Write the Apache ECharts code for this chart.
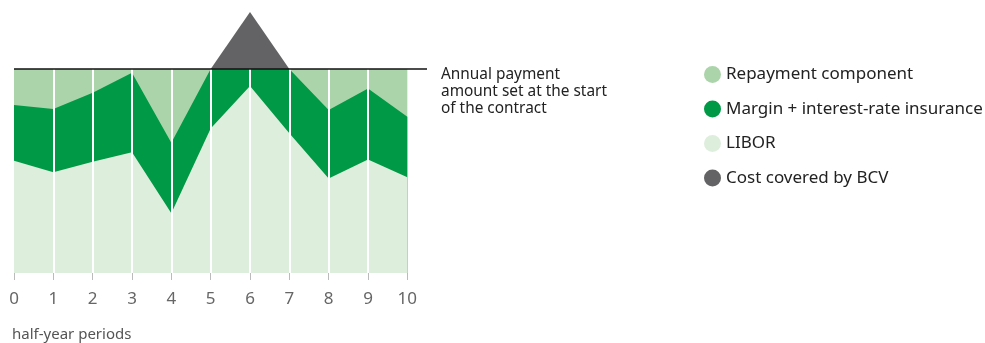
<!DOCTYPE html>
<html>
<head>
<meta charset="utf-8">
<script src="https://cdn.jsdelivr.net/npm/echarts@6/dist/echarts.min.js"></script>
<style>html,body{margin:0;padding:0;background:#fff}#c{width:985px;height:343px}</style>
</head>
<body>
<div id="c"></div>
<script>
// Data
var periods = [0, 1, 2, 3, 4, 5, 6, 7, 8, 9, 10];
var libor = [55.0, 49.4, 54.6, 59.2, 29.3, 70.9, 91.7, 68.5, 46.4, 55.7, 46.9];
var margin = [27.4, 31.0, 33.8, 39.0, 34.6, 29.1, 8.3, 31.5, 33.5, 34.8, 29.7];
var repayment = [17.6, 19.6, 11.6, 1.8, 36.1, 0, 0, 0, 20.1, 9.5, 23.4];
var bcv = [0, 0, 0, 0, 0, 0, 28, 0, 0, 0, 0];
var annualPayment = 100;
var seriesNames = ['Repayment component', 'Margin + interest-rate insurance', 'LIBOR', 'Cost covered by BCV'];
var tickValues = [0, 1, 2, 3, 4, 5, 6, 7, 8, 9, 10];

var FONT = 'Noto Sans';
// cumulative stacking (bottom to top: LIBOR, Margin, Repayment, BCV)
function cum(list) {
  return periods.map(function (p, i) {
    var s = 0; list.forEach(function (a) { s += a[i]; }); return [p, s];
  });
}
// keep only the points around non-zero values of the top layer
function onlyNonZero(data, arr) {
  return data.map(function (d, i) {
    var near = arr[i] || (i > 0 && arr[i - 1]) || (i < arr.length - 1 && arr[i + 1]);
    return near ? d : [d[0], null];
  });
}
function area(name, color, data) {
  return {
    name: name, type: 'line', data: data,
    symbol: 'none', color: color, connectNulls: false,
    lineStyle: { width: 0 }, areaStyle: { color: color, opacity: 1 },
    emphasis: { disabled: true }, silent: true, z: 2
  };
}
var vlines = periods.slice(1, periods.length - 1).map(function (p) {
  return [{ coord: [p, 0] }, { coord: [p, annualPayment] }];
});

var chart = echarts.init(document.getElementById('c'), null, { renderer: 'canvas' });
chart.setOption({
  animation: false,
  textStyle: { fontFamily: FONT },
  title: {
    text: 'half-year periods', left: 7, top: 322,
    textStyle: { fontFamily: FONT, fontSize: 15, fontWeight: 'normal', color: '#555' }
  },
  legend: {
    data: seriesNames.map(function (n) { return { name: n, icon: 'circle' }; }),
    orient: 'vertical', left: 699, top: 61,
    itemWidth: 17, itemHeight: 17, itemGap: 17.5,
    textStyle: { fontFamily: FONT, fontSize: 17, color: '#222' },
    selectedMode: false
  },
  grid: { left: 14, right: 558, top: 12, bottom: 70, containLabel: false },
  xAxis: {
    type: 'value', min: 0, max: 10.5, interval: 1,
    axisLine: { show: false },
    axisTick: { show: true, length: 7, lineStyle: { color: '#bbb', width: 1 }, customValues: tickValues },
    axisLabel: { color: '#666', fontSize: 17, margin: 18, fontFamily: FONT, customValues: tickValues },
    splitLine: { show: false }
  },
  yAxis: { type: 'value', min: 0, max: 128, show: false, splitLine: { show: false } },
  series: [
    area('Cost covered by BCV', '#636365', onlyNonZero(cum([libor, margin, repayment, bcv]), bcv)),
    area('Repayment component', '#acd4aa', cum([libor, margin, repayment])),
    area('Margin + interest-rate insurance', '#009a46', cum([libor, margin])),
    area('LIBOR', '#deeedd', cum([libor])),
    {
      name: 'lines', type: 'line', data: [], z: 10, silent: true,
      markLine: {
        silent: true, symbol: 'none', animation: false,
        label: { show: false },
        lineStyle: { color: '#ffffff', width: 2, type: 'solid' },
        data: vlines
      }
    },
    {
      name: 'payment', type: 'line', data: [], z: 11, silent: true,
      markLine: {
        silent: true, symbol: 'none', animation: false,
        label: { show: false },
        lineStyle: { color: '#111', width: 1.5, type: 'solid' },
        data: [{ yAxis: annualPayment }]
      }
    }
  ],
  graphic: [{
    type: 'text', left: 441, top: 66, silent: true,
    style: {
      text: 'Annual payment\namount set at the start\nof the contract',
      font: '15.4px "Noto Sans"', fill: '#222', lineHeight: 17
    }
  }]
});
</script>
</body>
</html>
